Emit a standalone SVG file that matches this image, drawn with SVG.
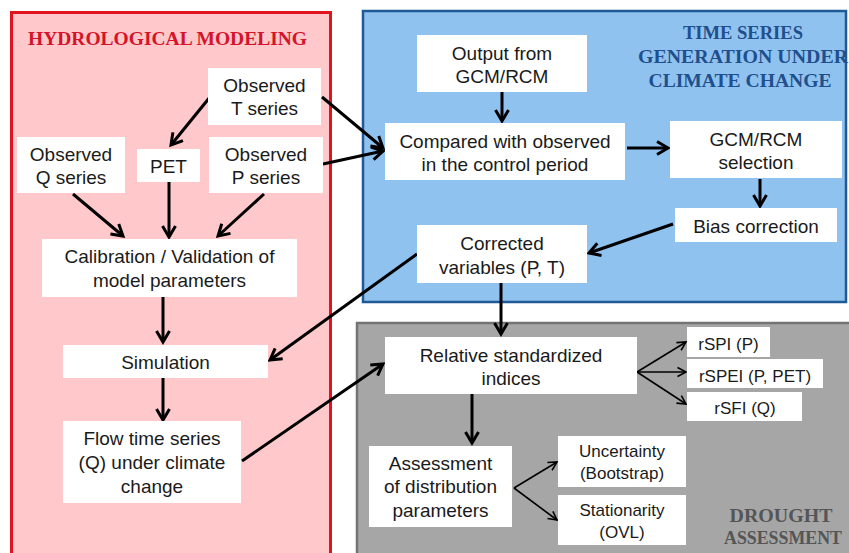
<svg xmlns="http://www.w3.org/2000/svg" width="849" height="553" viewBox="0 0 849 553">
<defs>
<style>
.box{fill:#fff;stroke:none}
.t{font-family:"Liberation Sans",Arial,sans-serif;font-size:19px;fill:#1a1a1a;text-anchor:middle}
.s{font-family:"Liberation Sans",Arial,sans-serif;font-size:17px;fill:#1a1a1a;text-anchor:middle}
.title{font-family:"Liberation Serif","Times New Roman",serif;font-size:19px;font-weight:bold;text-anchor:middle}
.thick{fill:none;stroke:#000;stroke-width:3}
.thin{fill:none;stroke:#000;stroke-width:1.6}
</style>
<marker id="ah" viewBox="0 0 16 16" refX="13" refY="8" markerWidth="16" markerHeight="16" markerUnits="userSpaceOnUse" orient="auto">
<path d="M2,1.5 L13,8 L2,14.5" fill="none" stroke="#000" stroke-width="3"/>
</marker>
<marker id="ahs" viewBox="0 0 12 12" refX="10" refY="6" markerWidth="12" markerHeight="12" markerUnits="userSpaceOnUse" orient="auto">
<path d="M1.5,1.5 L10,6 L1.5,10.5" fill="none" stroke="#000" stroke-width="1.6"/>
</marker>
</defs>
<rect x="0" y="0" width="849" height="553" fill="#fff"/>
<g id="panel-hydro">
<rect x="11.5" y="12.5" width="319" height="570" fill="#ffc8cb" stroke="#e0141e" stroke-width="3"/>
<text class="title" x="167.5" y="45" fill="#d4142a" textLength="279" lengthAdjust="spacingAndGlyphs">HYDROLOGICAL MODELING</text>
</g>
<g id="panel-time">
<rect x="363" y="11" width="483" height="291" fill="#90c2f0" stroke="#1f5a96" stroke-width="2.5"/>
<text class="title" x="743" y="39" fill="#1f4f8c" textLength="120" lengthAdjust="spacingAndGlyphs">TIME SERIES</text>
<text class="title" x="743" y="63" fill="#1f4f8c" textLength="210" lengthAdjust="spacingAndGlyphs">GENERATION UNDER</text>
<text class="title" x="740" y="87" fill="#1f4f8c" textLength="183" lengthAdjust="spacingAndGlyphs">CLIMATE CHANGE</text>
</g>
<g id="panel-drought">
<rect x="357" y="323" width="510" height="260" fill="#a6a6a6" stroke="#747474" stroke-width="2.5"/>
<text class="title" x="781" y="522" fill="#555" style="font-size:18px" textLength="103" lengthAdjust="spacingAndGlyphs">DROUGHT</text>
<text class="title" x="783" y="544" fill="#555" style="font-size:18px" textLength="118" lengthAdjust="spacingAndGlyphs">ASSESSMENT</text>
</g>
<g id="connectors">
<line class="thick" x1="210" y1="97" x2="171" y2="145" marker-end="url(#ah)"/>
<line class="thick" x1="322" y1="97" x2="383" y2="148" marker-end="url(#ah)"/>
<line class="thick" x1="323" y1="164" x2="383" y2="151" marker-end="url(#ah)"/>
<line class="thick" x1="502" y1="92" x2="502" y2="121" marker-end="url(#ah)"/>
<line class="thick" x1="627" y1="148" x2="668" y2="148" marker-end="url(#ah)"/>
<line class="thick" x1="760" y1="179" x2="760" y2="206" marker-end="url(#ah)"/>
<line class="thick" x1="673" y1="224" x2="589" y2="253" marker-end="url(#ah)"/>
<line class="thick" x1="417" y1="254" x2="270" y2="360" marker-end="url(#ah)"/>
<line class="thick" x1="501" y1="283" x2="501" y2="334" marker-end="url(#ah)"/>
<line class="thick" x1="73" y1="194" x2="123" y2="236" marker-end="url(#ah)"/>
<line class="thick" x1="169" y1="182" x2="169" y2="237" marker-end="url(#ah)"/>
<line class="thick" x1="264" y1="194" x2="218" y2="236" marker-end="url(#ah)"/>
<line class="thick" x1="163" y1="297" x2="163" y2="342" marker-end="url(#ah)"/>
<line class="thick" x1="163" y1="378" x2="163" y2="420" marker-end="url(#ah)"/>
<line class="thick" x1="242" y1="461" x2="383" y2="364" marker-end="url(#ah)"/>
<line class="thick" x1="472" y1="394" x2="472" y2="443" marker-end="url(#ah)"/>
<line class="thin" x1="637" y1="372" x2="686" y2="342" marker-end="url(#ahs)"/>
<line class="thin" x1="637" y1="372" x2="686" y2="372" marker-end="url(#ahs)"/>
<line class="thin" x1="637" y1="372" x2="686" y2="404" marker-end="url(#ahs)"/>
<line class="thin" x1="514" y1="488" x2="557" y2="462" marker-end="url(#ahs)"/>
<line class="thin" x1="514" y1="488" x2="557" y2="520" marker-end="url(#ahs)"/>
</g>
<g id="n-tseries"><rect class="box" x="208" y="68" width="113" height="57"/><text class="t" x="264.5" y="92">Observed</text><text class="t" x="264.5" y="115">T series</text></g>
<g id="n-qseries"><rect class="box" x="17" y="137" width="108" height="56"/><text class="t" x="71" y="161">Observed</text><text class="t" x="71" y="184">Q series</text></g>
<g id="n-pet"><rect class="box" x="137" y="149" width="63" height="33"/><text class="t" x="168.5" y="173">PET</text></g>
<g id="n-pseries"><rect class="box" x="209" y="137" width="114" height="56"/><text class="t" x="266" y="161">Observed</text><text class="t" x="266" y="184">P series</text></g>
<g id="n-calib"><rect class="box" x="42" y="239" width="255" height="58"/><text class="t" x="169.5" y="263" xml:space="preserve">Calibration / Validation of</text><text class="t" x="169.5" y="287">model parameters</text></g>
<g id="n-sim"><rect class="box" x="63" y="345" width="205" height="33"/><text class="t" x="165.5" y="369">Simulation</text></g>
<g id="n-flow"><rect class="box" x="63" y="421" width="178" height="82"/><text class="t" x="152" y="445">Flow time series</text><text class="t" x="152" y="469">(Q) under climate</text><text class="t" x="152" y="493">change</text></g>
<g id="n-output"><rect class="box" x="417" y="35" width="170" height="57"/><text class="t" x="502" y="60">Output from</text><text class="t" x="502" y="83">GCM/RCM</text></g>
<g id="n-compared"><rect class="box" x="385" y="123" width="240" height="57"/><text class="t" x="505" y="148">Compared with observed</text><text class="t" x="505" y="171">in the control period</text></g>
<g id="n-gcmsel"><rect class="box" x="670" y="121" width="172" height="57"/><text class="t" x="756" y="146">GCM/RCM</text><text class="t" x="756" y="169">selection</text></g>
<g id="n-bias"><rect class="box" x="675" y="208" width="162" height="34"/><text class="t" x="756" y="233">Bias correction</text></g>
<g id="n-corrected"><rect class="box" x="417" y="225" width="170" height="58"/><text class="t" x="502" y="250">Corrected</text><text class="t" x="502" y="274">variables (P, T)</text></g>
<g id="n-relative"><rect class="box" x="385" y="337" width="252" height="57"/><text class="t" x="511" y="362">Relative standardized</text><text class="t" x="511" y="385">indices</text></g>
<g id="n-rspi"><rect class="box" x="687" y="327" width="83" height="30"/><text class="s" x="728.5" y="350">rSPI (P)</text></g>
<g id="n-rspei"><rect class="box" x="687" y="359" width="136" height="29"/><text class="s" x="755" y="382">rSPEI (P, PET)</text></g>
<g id="n-rsfi"><rect class="box" x="687" y="392" width="115" height="29"/><text class="s" x="745" y="414">rSFI (Q)</text></g>
<g id="n-assess"><rect class="box" x="369" y="446" width="143" height="81"/><text class="t" x="440.5" y="470">Assessment</text><text class="t" x="440.5" y="493">of distribution</text><text class="t" x="440.5" y="517">parameters</text></g>
<g id="n-uncert"><rect class="box" x="558" y="436" width="128" height="51"/><text class="s" x="622" y="457">Uncertainty</text><text class="s" x="622" y="479">(Bootstrap)</text></g>
<g id="n-station"><rect class="box" x="558" y="495" width="128" height="50"/><text class="s" x="622" y="516">Stationarity</text><text class="s" x="622" y="538">(OVL)</text></g>
</svg>
